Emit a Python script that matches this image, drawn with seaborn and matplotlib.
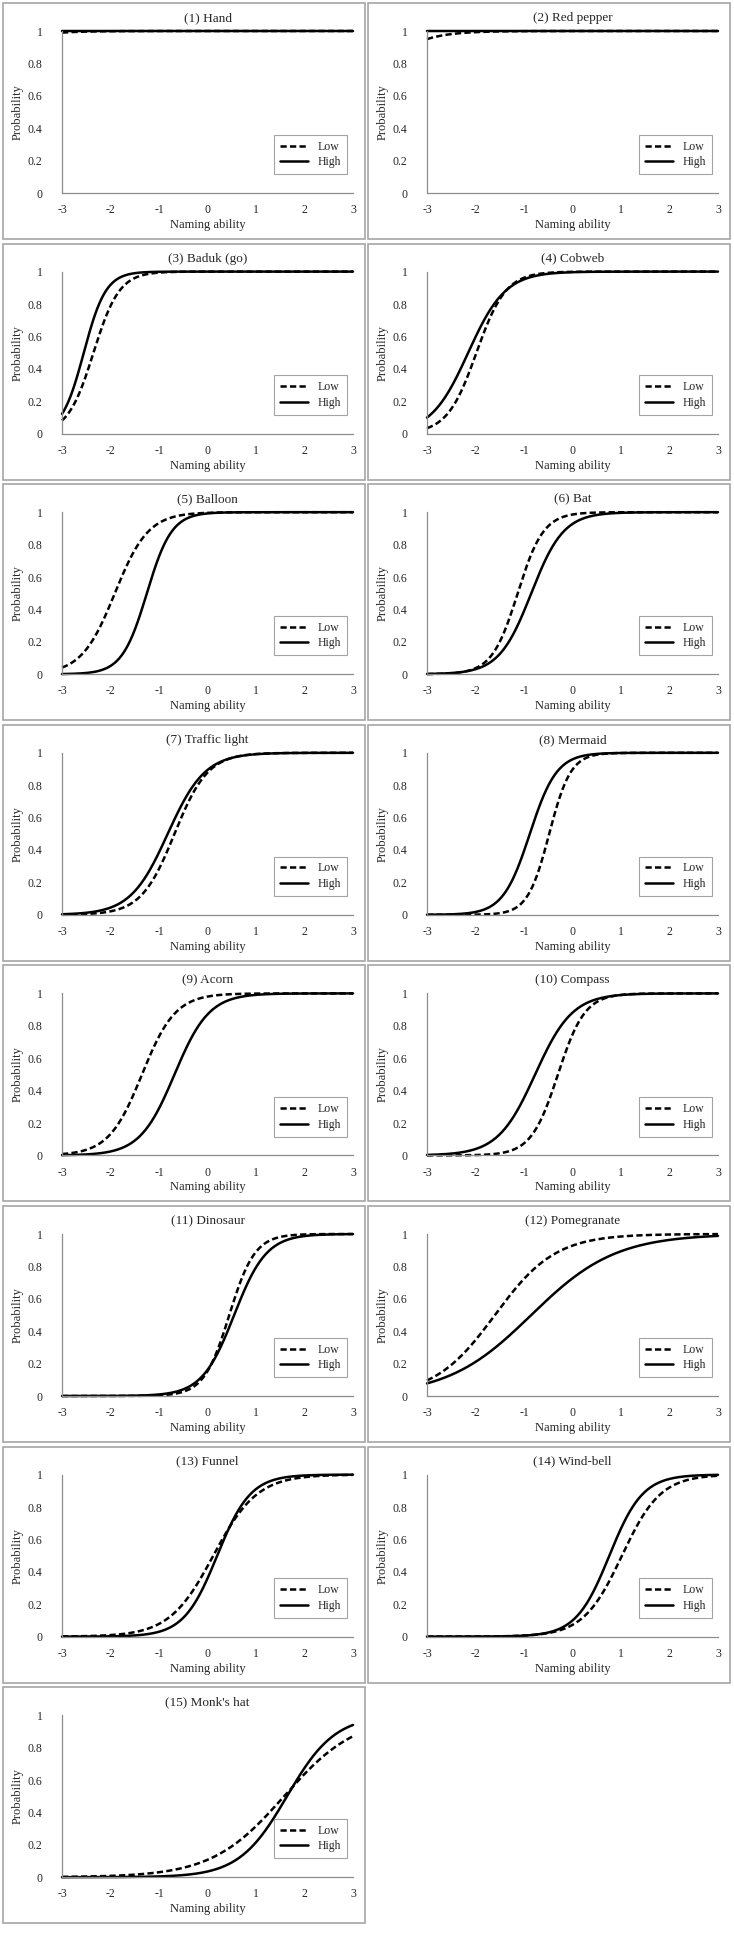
import numpy as np
import pandas as pd
import matplotlib
matplotlib.use("Agg")
import matplotlib.pyplot as plt
from matplotlib.patches import Rectangle
from matplotlib.lines import Line2D
import seaborn as sns

# Item titles and 2PL item parameters (discrimination a, difficulty b)
items = ["(1) Hand", "(2) Red pepper", "(3) Baduk (go)", "(4) Cobweb", "(5) Balloon",
         "(6) Bat", "(7) Traffic light", "(8) Mermaid", "(9) Acorn", "(10) Compass",
         "(11) Dinosaur", "(12) Pomegranate", "(13) Funnel", "(14) Wind-bell", "(15) Monk's hat"]
low_a = [2.0, 2.0, 3.75, 3.3, 2.9, 3.75, 2.9, 4.5, 2.9, 3.6, 3.8, 1.6, 2.2, 2.5, 1.34]
low_b = [-5.3, -4.47, -2.35, -1.98, -1.91, -1.13, -0.68, -0.48, -1.35, -0.3, 0.45, -1.6, 0.12, 1.02, 1.58]
high_a = [3.0, 3.0, 4.4, 2.6, 3.9, 3.0, 2.6, 3.6, 2.8, 2.6, 3.0, 1.15, 2.9, 2.9, 2.02]
high_b = [-6.0, -6.0, -2.55, -2.15, -1.25, -0.85, -0.82, -0.88, -0.68, -0.77, 0.55, -0.85, 0.2, 0.76, 1.64]

sns.set_style("white")
plt.rcParams["font.family"] = ["Liberation Serif", "DejaVu Serif"]

# ability grid on which each item characteristic curve is evaluated
theta = np.linspace(-3, 3, 401)
rows = []
for i, name in enumerate(items):
    for grp, a, b in [("Low", low_a[i], low_b[i]), ("High", high_a[i], high_b[i])]:
        p = 1.0 / (1.0 + np.exp(-a * (theta - b)))
        rows.append(pd.DataFrame({"item": name, "group": grp, "theta": theta, "prob": p}))
df = pd.concat(rows, ignore_index=True)

W, H = 734, 1944
fig = plt.figure(figsize=(W / 100, H / 100), dpi=100)

styles = {"Low": (2.5, 1.3), "High": ""}
for i, name in enumerate(items):
    r, c = divmod(i, 2)
    bx = 3 if c == 0 else 368
    by = 3 + 240.6 * r
    bw, bh = 362, 236
    fig.patches.append(Rectangle((bx / W, 1 - (by + bh) / H), bw / W, bh / H, fill=False,
                                 edgecolor="#a6a6a6", lw=1.2, transform=fig.transFigure))
    ax_l, ax_t, ax_w, ax_h = bx + 59, by + 28, 291, 162
    ax = fig.add_axes([ax_l / W, 1 - (ax_t + ax_h) / H, ax_w / W, ax_h / H])

    sub = df[df["item"] == name]
    for grp in ["Low", "High"]:
        g = sub[sub["group"] == grp]
        sns.lineplot(data=g, x="theta", y="prob", ax=ax, color="black", lw=1.8)
        ln = ax.lines[-1]
        if styles[grp]:
            ln.set_dashes(styles[grp])
        ln.set_clip_on(False)

    ax.set_xlim(-3, 3)
    ax.set_ylim(0, 1)
    ax.set_xticks(range(-3, 4))
    ax.set_xticklabels([str(v) for v in range(-3, 4)])
    ax.set_xticks(np.arange(-2.5, 3, 1.0), minor=True)
    ax.set_yticks([0, 0.2, 0.4, 0.6, 0.8, 1])
    ax.set_yticklabels(["0", "0.2", "0.4", "0.6", "0.8", "1"])
    ax.tick_params(axis="both", which="both", direction="out", length=3, width=0.8,
                   color="#8c8c8c", labelsize=8.5)
    ax.tick_params(axis="y", pad=11)
    ax.tick_params(axis="x", pad=5)
    for s in ["top", "right"]:
        ax.spines[s].set_visible(False)
    for s in ["left", "bottom"]:
        ax.spines[s].set_color("#8c8c8c")
        ax.spines[s].set_linewidth(0.9)

    ax.set_xlabel("Naming ability", fontsize=9)
    ax.set_ylabel("Probability", fontsize=9)
    ax.xaxis.set_label_coords(0.5, -0.16)
    ax.yaxis.set_label_coords(-0.13, 0.5)
    ax.text(0.5, 1 + 13 / ax_h, name, transform=ax.transAxes, ha="center", va="center",
            fontsize=9.5)

    handles = [Line2D([], [], color="black", lw=1.8, dashes=(2.5, 1.3)),
               Line2D([], [], color="black", lw=1.8)]
    leg = ax.legend(handles, ["Low", "High"], loc="lower right", bbox_to_anchor=(1.0, 0.08),
                    fontsize=8.5, frameon=True, fancybox=False, handlelength=2.4,
                    borderpad=0.5, labelspacing=0.3, handletextpad=0.8)
    leg.get_frame().set_edgecolor("#8c8c8c")
    leg.get_frame().set_linewidth(0.8)

fig.savefig("out.png", dpi=100, facecolor="white")
